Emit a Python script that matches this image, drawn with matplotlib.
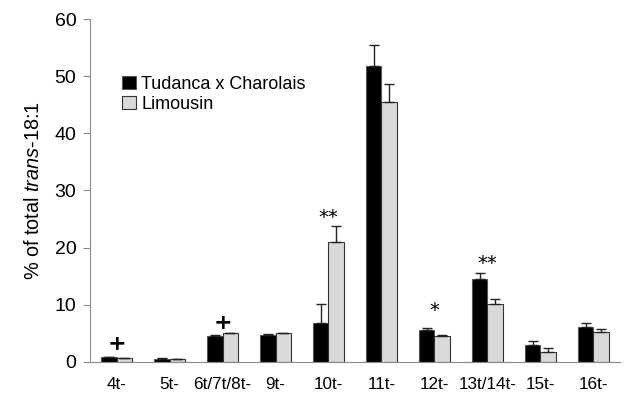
import matplotlib
matplotlib.use("Agg")
import matplotlib.pyplot as plt
import numpy as np

plt.rcParams['font.family'] = ['Liberation Sans', 'DejaVu Sans']
plt.rcParams['mathtext.fontset'] = 'custom'
plt.rcParams['mathtext.rm'] = 'Liberation Sans'
plt.rcParams['mathtext.it'] = 'Liberation Sans:italic'

categories = ['4t-', '5t-', '6t/7t/8t-', '9t-', '10t-', '11t-', '12t-', '13t/14t-', '15t-', '16t-']
tudanca = [0.8, 0.5, 4.5, 4.8, 6.9, 51.8, 5.6, 14.5, 3.0, 6.1]
tudanca_err = [0.15, 0.15, 0.15, 0.15, 3.2, 3.7, 0.3, 1.0, 0.7, 0.7]
limousin = [0.65, 0.45, 5.0, 5.0, 20.9, 45.5, 4.5, 10.1, 1.8, 5.3]
limousin_err = [0.1, 0.1, 0.1, 0.15, 2.9, 3.2, 0.15, 0.9, 0.6, 0.5]
marks = ['+', '', '+', '', '**', '', '*', '**', '', '']
mark_y = [3.1, 0, 6.8, 0, 25.2, 0, 9.0, 17.3, 0, 0]

fig = plt.figure(figsize=(6.26, 3.96), dpi=100)
ax = fig.add_axes([0.144, 0.086, 0.846, 0.866])

x = np.arange(len(categories))
w = 0.29
ekw = dict(ecolor='#222222', elinewidth=1.0, capsize=3.5, capthick=1.0)
ax.bar(x - w/2, tudanca, w, color='black', edgecolor='#555555', linewidth=0.8,
       yerr=[np.zeros(len(x)), tudanca_err], error_kw=ekw,
       label='Tudanca x Charolais', zorder=2)
ax.bar(x + w/2, limousin, w, color='#d9d9d9', edgecolor='#333333', linewidth=0.8,
       yerr=[np.zeros(len(x)), limousin_err], error_kw=ekw,
       label='Limousin', zorder=2)

for xi, m, my in zip(x, marks, mark_y):
    if m:
        fs = 16 if m == '+' else 14
        ax.text(xi, my, m, ha='center', va='center', fontsize=fs,
                fontweight='bold' if m == '+' else 'normal',
                family=['DejaVu Sans'])

ax.set_xlim(-0.5, len(categories) - 0.5)
ax.set_ylim(0, 60)
ax.set_yticks([0, 10, 20, 30, 40, 50, 60])
ax.set_xticks(x)
ax.set_xticklabels(categories, fontsize=12.3)
ax.tick_params(axis='x', length=0, pad=10.5)
ax.tick_params(axis='y', length=5, color='#888888', labelsize=14, pad=5)
for s in ['top', 'right']:
    ax.spines[s].set_visible(False)
ax.spines['left'].set_color('#888888')
ax.spines['bottom'].set_color('#888888')

ax.set_ylabel('% of total $\\mathit{trans}$-18:1', fontsize=14.3, labelpad=8)

leg = ax.legend(loc='upper left', bbox_to_anchor=(0.047, 0.855), frameon=False, fontsize=13,
                handlelength=0.75, handleheight=0.75, handletextpad=0.3, labelspacing=0.15, borderaxespad=0)

fig.savefig('out.png', dpi=100)
